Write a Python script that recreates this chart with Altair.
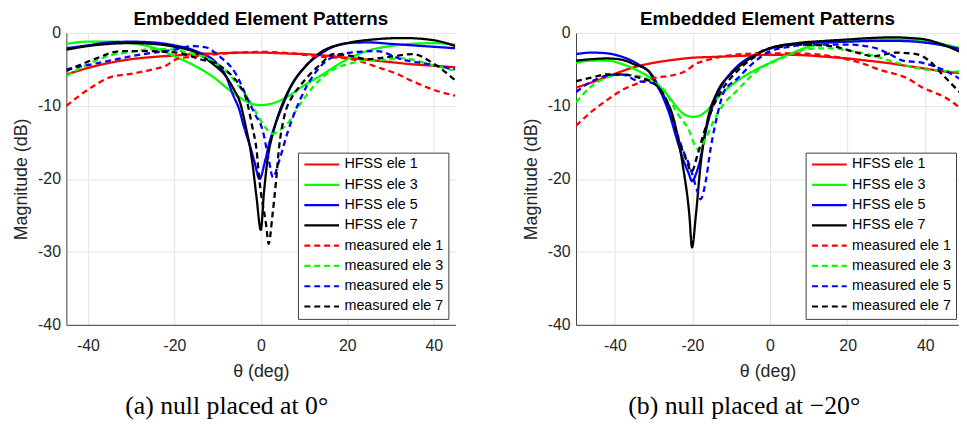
import altair as alt
import pandas as pd

SERIES = ["HFSS ele 1", "HFSS ele 3", "HFSS ele 5", "HFSS ele 7",
          "measured ele 1", "measured ele 3", "measured ele 5", "measured ele 7"]
COLORS = ["#ff0000", "#00ff00", "#0000ff", "#000000",
          "#ff0000", "#00ff00", "#0000ff", "#000000"]
DASHES = [[1, 0], [1, 0], [1, 0], [1, 0], [6, 4], [6, 4], [6, 4], [6, 4]]

TITLE = "Embedded Element Patterns"
CAPTION_A = "(a) null placed at 0°"
CAPTION_B = "(b) null placed at −20°"
X_TICKS = [-40, -20, 0, 20, 40]
Y_TICKS = [-40, -30, -20, -10, 0]

# ---------------- panel (a): null at 0 deg ----------------
a_hfss1_t = [-45, -40, -35, -30, -25, -20, -15, -10, -5, 0, 5, 10, 15, 20, 25, 30, 35, 40, 45]
a_hfss1_d = [-5.7, -4.8, -4.1, -3.6, -3.3, -3.1, -2.9, -2.8, -2.7, -2.7, -2.8, -2.9, -3.1, -3.4, -3.7, -4.0, -4.3, -4.5, -4.7]

a_hfss3_t = [-45, -40, -35, -30, -25, -20, -15, -10, -8, -5, -3, 0, 3, 6, 10, 14, 20, 25, 30, 35, 40, 45]
a_hfss3_d = [-1.5, -1.2, -1.2, -1.4, -2.0, -3.2, -4.6, -6.5, -7.5, -8.8, -9.5, -9.9, -9.6, -8.8, -7.2, -5.8, -3.6, -2.4, -1.8, -1.5, -1.4, -1.6]

a_hfss5_t = [-45, -40, -35, -30, -25, -20, -15, -10, -8, -6.5, -5, -3.8, -2.5, -1.5, -0.3, 1, 2, 3.5, 5.5, 7, 10, 14, 20, 25, 30, 35, 40, 45]
a_hfss5_d = [-2.1, -1.7, -1.3, -1.2, -1.3, -1.7, -2.5, -4.3, -6.0, -8.4, -10.5, -13.1, -15.5, -17.6, -20.0, -17.5, -15.0, -12.3, -9.3, -7.3, -4.8, -2.8, -1.4, -1.3, -1.5, -1.7, -1.9, -2.1]

a_hfss7_t = [-45, -40, -35, -30, -25, -20, -15, -11, -8, -6, -5, -3.5, -2, -1, 0, 0.7, 1.5, 3, 4.5, 6, 8, 10, 14, 20, 26, 33, 40, 45]
a_hfss7_d = [-2.3, -1.8, -1.5, -1.4, -1.5, -1.9, -2.7, -4.3, -6.0, -8.0, -9.2, -12.8, -17.6, -22.5, -27.0, -22.0, -17.6, -13.3, -10.5, -8.4, -6.3, -4.8, -2.6, -1.4, -0.9, -0.7, -1.0, -1.8]

a_meas1_t = [-45, -42, -38.5, -35, -30, -25, -22, -19.5, -15, -10, -5, 0, 5, 10, 15, 20, 23, 27, 31, 35, 40, 45]
a_meas1_d = [-10.0, -8.6, -7.2, -6.1, -5.6, -5.0, -4.5, -3.6, -3.2, -2.9, -2.7, -2.6, -2.7, -3.0, -3.3, -3.5, -3.9, -4.7, -5.5, -6.6, -7.8, -8.6]

a_meas3_t = [-45, -40, -35, -30, -25, -20, -17, -13, -10, -8, -5.5, -3.5, -1.5, 0.5, 2.7, 4.5, 6.5, 8.5, 10.5, 13, 16, 20, 24, 28, 33, 39, 45]
a_meas3_d = [-5.9, -4.3, -3.1, -2.6, -2.2, -2.3, -2.7, -3.3, -4.3, -5.2, -7.0, -8.5, -10.5, -12.5, -13.8, -13.3, -12.2, -10.3, -8.6, -6.8, -5.3, -4.3, -3.8, -3.7, -3.5, -4.3, -5.2]

a_meas5_t = [-45, -40, -35, -30, -27, -20, -15.6, -12.6, -10, -8.8, -7, -5.7, -3.4, -1.5, 0.4, 1.9, 2.8, 4.2, 6.1, 7.5, 9.2, 10.7, 12.3, 16, 20.7, 26.8, 33, 39, 45]
a_meas5_d = [-5.0, -4.4, -3.8, -3.2, -2.9, -2.3, -1.8, -2.0, -3.0, -3.6, -4.6, -5.7, -8.6, -11.0, -13.3, -17.6, -19.8, -17.6, -13.8, -11.4, -9.0, -7.2, -5.7, -3.5, -2.7, -2.5, -3.7, -4.3, -5.0]

a_meas7_t = [-45, -38.5, -32.4, -26.3, -19.4, -14.1, -9.5, -6.5, -4.9, -3.4, -2.0, -1.0, -0.3, 1.2, 1.8, 2.7, 3.5, 4.2, 5.4, 7.2, 9, 10.7, 13.8, 16.8, 21.4, 24.5, 30.6, 35.2, 39.7, 45]
a_meas7_d = [-5.2, -3.6, -2.5, -2.5, -2.7, -3.6, -4.5, -6.0, -7.2, -9.0, -12.8, -16.0, -20.4, -26.2, -28.9, -24.9, -20.4, -15.8, -11.5, -8.8, -7.3, -6.1, -4.3, -2.9, -3.2, -3.6, -3.2, -2.9, -4.1, -6.5]

# ---------------- panel (b): null at -20 deg ----------------
b_hfss1_t = [-50, -45, -40, -35, -30, -25, -20, -15, -10, -5, 0, 5, 10, 15, 20, 25, 30, 35, 40, 45, 49]
b_hfss1_d = [-7.5, -6.6, -5.6, -4.7, -4.1, -3.7, -3.4, -3.3, -3.2, -3.1, -3.0, -3.0, -3.1, -3.3, -3.5, -3.8, -4.1, -4.5, -4.9, -5.3, -5.5]

b_hfss3_t = [-50, -46, -42, -38, -34, -31, -28, -26, -24, -22, -20, -18, -16, -13, -8.5, -3.5, 0, 5, 10, 15, 20, 25, 30, 35, 40, 45, 49]
b_hfss3_d = [-4.1, -3.8, -3.8, -4.3, -5.2, -6.1, -7.6, -8.8, -10.2, -11.2, -11.5, -11.3, -10.5, -8.6, -6.6, -5.0, -4.1, -2.9, -1.9, -1.4, -1.2, -1.0, -0.9, -0.9, -1.1, -1.6, -2.1]

b_hfss5_t = [-50, -46, -42, -38, -34, -30, -28, -26, -24, -22, -21, -20.1, -19, -18.3, -16.6, -14.5, -12.4, -8.5, -4.3, 0, 7, 14, 20, 27, 33, 41, 49]
b_hfss5_d = [-2.9, -2.7, -2.8, -3.3, -4.3, -6.1, -8.3, -11.0, -14.6, -17.9, -19.2, -20.3, -19.2, -18.0, -13.6, -9.5, -7.2, -4.6, -3.1, -2.1, -1.5, -1.3, -1.2, -1.1, -1.1, -1.4, -2.2]

b_hfss7_t = [-50, -46, -42, -38, -35, -31.4, -29.3, -27, -25.1, -22.5, -20.8, -20.1, -19.1, -17.9, -16.2, -13.6, -10, -6, -3, 0, 7, 14, 20, 26, 32, 36, 40, 44, 49]
b_hfss7_d = [-3.8, -3.6, -3.5, -3.7, -4.3, -5.2, -7.0, -9.0, -11.3, -18.1, -24.9, -29.4, -24.9, -18.1, -12.2, -8.1, -5.6, -3.8, -2.8, -2.1, -1.4, -1.1, -0.9, -0.7, -0.6, -0.7, -0.9, -1.5, -2.6]

b_meas1_t = [-50, -46, -42, -38, -34, -30, -25, -22, -19, -16, -12, -7, -3, 0, 5, 11, 17, 22, 25, 28, 32, 35, 39, 42, 45, 49]
b_meas1_d = [-12.7, -10.8, -9.2, -7.8, -6.9, -6.2, -5.8, -5.3, -4.2, -3.7, -3.2, -2.9, -2.8, -2.8, -2.8, -2.9, -3.3, -3.9, -4.4, -5.0, -5.6, -6.1, -7.4, -8.1, -8.8, -10.3]

b_meas3_t = [-50, -46, -42, -38, -34, -30.6, -27.2, -23.8, -21.2, -18.5, -16.6, -14.5, -12, -8.5, -5, -2, 0, 5, 10, 15, 20, 25, 30.8, 36.8, 43.6, 49]
b_meas3_d = [-9.5, -7.3, -6.1, -5.7, -5.9, -6.6, -7.9, -11.1, -13.0, -16.0, -14.5, -12.0, -9.8, -7.9, -6.0, -4.7, -4.2, -3.0, -2.2, -2.1, -2.4, -2.9, -3.8, -4.7, -5.2, -5.3]

b_meas5_t = [-50, -45.8, -42.4, -38.2, -34, -30.6, -28, -26, -24.2, -22.5, -20.8, -18.7, -17.9, -16.6, -15.3, -13.6, -11.9, -8.5, -4.3, 0, 5, 11.4, 19.8, 26.6, 30.8, 34.2, 39.3, 44.4, 49]
b_meas5_d = [-8.1, -6.6, -5.9, -5.7, -6.6, -6.8, -8.2, -10.5, -13.4, -16.0, -18.1, -21.7, -22.8, -20.4, -15.8, -11.3, -8.1, -6.3, -4.1, -2.5, -1.9, -1.6, -1.6, -2.0, -2.9, -3.8, -4.1, -5.0, -6.3]

b_meas7_t = [-50, -45.8, -42.4, -38.2, -34, -29.7, -26.3, -23.4, -21.7, -20.2, -18.7, -17, -14.9, -12, -8, -4, -1.3, 3, 7.1, 15.6, 22.4, 26.6, 32.5, 37.6, 41, 44.4, 49]
b_meas7_d = [-6.6, -6.1, -5.7, -5.7, -6.1, -7.0, -9.7, -14.9, -17.2, -19.0, -16.7, -13.6, -10.4, -7.5, -5.0, -3.3, -2.3, -1.9, -1.6, -1.8, -2.7, -3.2, -2.7, -2.9, -3.8, -5.7, -8.2]

PANEL_A = [(a_hfss1_t, a_hfss1_d), (a_hfss3_t, a_hfss3_d), (a_hfss5_t, a_hfss5_d), (a_hfss7_t, a_hfss7_d),
           (a_meas1_t, a_meas1_d), (a_meas3_t, a_meas3_d), (a_meas5_t, a_meas5_d), (a_meas7_t, a_meas7_d)]
PANEL_B = [(b_hfss1_t, b_hfss1_d), (b_hfss3_t, b_hfss3_d), (b_hfss5_t, b_hfss5_d), (b_hfss7_t, b_hfss7_d),
           (b_meas1_t, b_meas1_d), (b_meas3_t, b_meas3_d), (b_meas5_t, b_meas5_d), (b_meas7_t, b_meas7_d)]


def frame(pairs):
    rows = []
    for name, (ts, ds) in zip(SERIES, pairs):
        for i, (t, d) in enumerate(zip(ts, ds)):
            rows.append({"series": name, "theta": t, "db": d, "i": i})
    return pd.DataFrame(rows)


FONT = "Liberation Sans"
AX = "#262626"
H = 295


def panel(df, xdom, width, caption, cap_x, lx, ly):
    legend = alt.Legend(
        title=None, orient="none", legendX=lx, legendY=ly,
        symbolType="stroke", symbolSize=1225, symbolStrokeWidth=2.2,
        labelFont=FONT, labelFontSize=14.5, labelColor="black", labelOffset=4,
        strokeColor="#404040", fillColor="white", padding=5, rowPadding=5.5,
        clipHeight=14, labelLimit=300,
    )
    xaxis = alt.Axis(
        values=X_TICKS, grid=True, gridColor="#e3e3e3", gridWidth=1,
        domainColor="#404040", domainWidth=1, ticks=False, tickSize=0,
        labelFont=FONT, labelFontSize=16, labelColor=AX, labelPadding=13,
        labelExpr="'' + datum.value",
        title="θ (deg)", titleFont=FONT, titleFontSize=18, titleFontWeight="normal",
        titleColor=AX, titlePadding=9,
    )
    yaxis = alt.Axis(
        values=Y_TICKS, grid=True, gridColor="#e3e3e3", gridWidth=1,
        domainColor="#404040", domainWidth=1, ticks=False, tickSize=0,
        labelFont=FONT, labelFontSize=16, labelColor=AX, labelPadding=6,
        labelExpr="'' + datum.value",
        title="Magnitude (dB)", titleFont=FONT, titleFontSize=18, titleFontWeight="normal",
        titleColor=AX, titlePadding=7,
    )
    lines = alt.Chart(df).mark_line(strokeWidth=2.3, clip=True, interpolate="monotone").encode(
        x=alt.X("theta:Q", scale=alt.Scale(domain=xdom, nice=False, zero=False), axis=xaxis),
        y=alt.Y("db:Q", scale=alt.Scale(domain=[-40, 0], nice=False), axis=yaxis),
        color=alt.Color("series:N", scale=alt.Scale(domain=SERIES, range=COLORS), legend=legend),
        strokeDash=alt.StrokeDash("series:N", scale=alt.Scale(domain=SERIES, range=DASHES), legend=legend),
        order="i:Q",
    )
    cap = alt.Chart(pd.DataFrame({"c": [caption]})).mark_text(
        font="Liberation Serif", fontSize=26, baseline="middle", align="center", color="black"
    ).encode(text="c:N", x=alt.value(cap_x), y=alt.value(377))
    return alt.layer(lines, cap).properties(
        width=width, height=H,
        title=alt.TitleParams(TITLE, font=FONT, fontSize=19, fontWeight="bold", color="black",
                              anchor="middle", offset=-4),
    )


pa = panel(frame(PANEL_A), [-45, 45], 393, CAPTION_A, 162, 234, 121)
pb = panel(frame(PANEL_B), [-50, 48.7], 387, CAPTION_B, 170, 232, 121)

chart = alt.hconcat(pa, pb, spacing=122, bounds="flush").resolve_scale(
    color="independent", strokeDash="independent", x="independent", y="independent"
).resolve_legend(color="independent", strokeDash="independent").properties(
    padding={"left": 4, "top": 0, "right": 0, "bottom": 0}, background="white"
).configure_view(stroke=None)

chart.save("out.html", embed_options={"renderer": "svg", "actions": False})
